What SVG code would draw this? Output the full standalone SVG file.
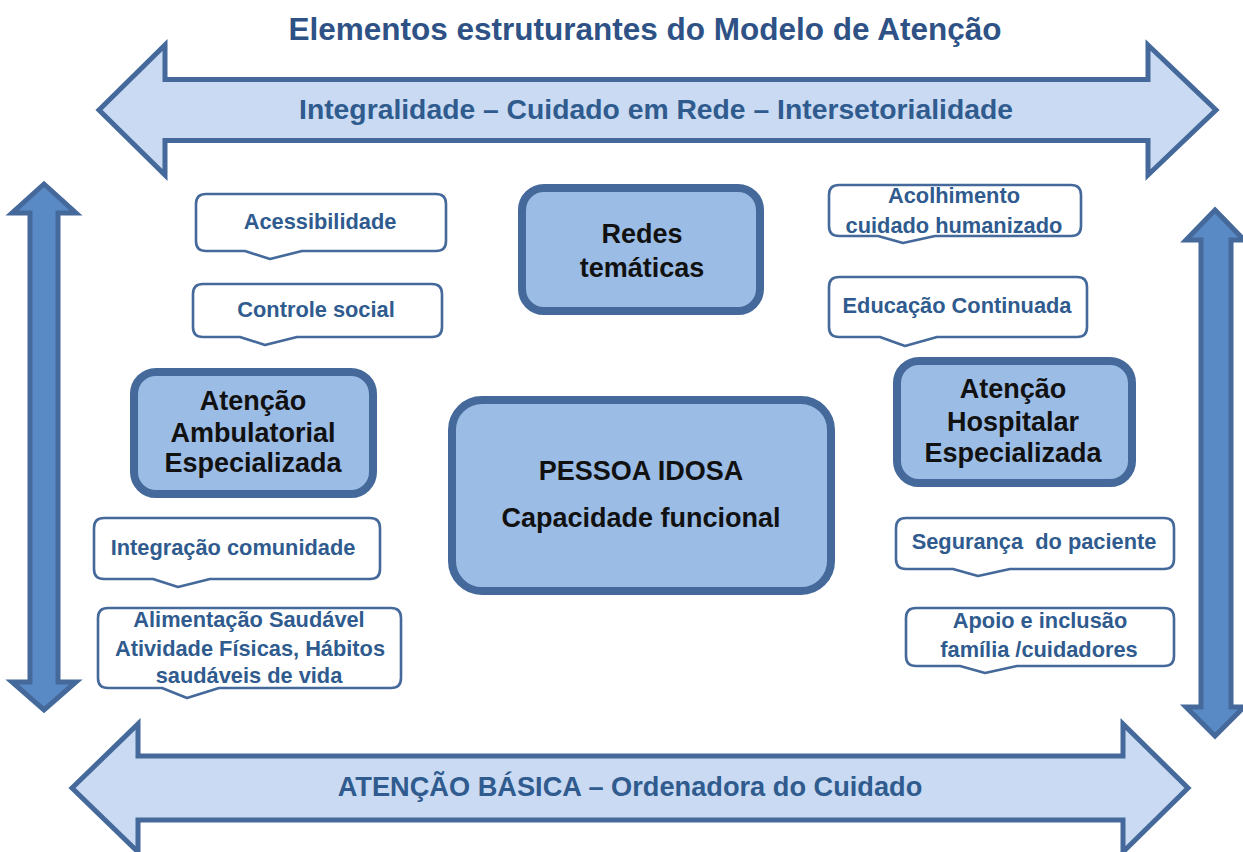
<svg xmlns="http://www.w3.org/2000/svg" width="1243" height="852" viewBox="0 0 1243 852">
<style>
.harrow{fill:#c9daf2;stroke:#44699a;stroke-width:5;stroke-linejoin:miter}
.varrow{fill:#5a8ac6;stroke:#44699a;stroke-width:5;stroke-linejoin:miter}
.box{fill:#9bbce5;stroke:#44699a;stroke-width:8}
.call{fill:#ffffff;stroke:#44699a;stroke-width:2.6;stroke-linejoin:round}
.t{font-family:"Liberation Sans",Arial,sans-serif;font-weight:bold;text-anchor:middle}
.title{font-size:31.5px;fill:#2e5286}
.lbl{font-size:28.3px;fill:#2f5b8e}
.lbl2{font-size:27.2px;fill:#2f5b8e}
.ct{font-size:21.8px;fill:#2f5b8e}
.bt{font-size:27px;fill:#111111}
</style>
<rect x="0" y="0" width="1243" height="852" fill="#ffffff"/>
<g id="title"><text class="t title" x="645" y="40">Elementos estruturantes do Modelo de Atenção</text></g>
<g id="connectors">
<path class="harrow" d="M99,110 L165,45 L165,79.5 L1148,79.5 L1148,45 L1216,110 L1148,175 L1148,140.5 L165,140.5 L165,175 Z"/>
<path class="harrow" d="M72,788 L138,724 L138,756 L1123,756 L1123,724 L1188,788 L1123,852 L1123,820 L138,820 L138,852 Z"/>
<path class="varrow" d="M44,184 L76,213 L58,213 L58,682 L76,682 L44,710 L12,682 L30,682 L30,213 L12,213 Z"/>
<path class="varrow" d="M1215,210 L1244,240 L1231,240 L1231,707 L1244,707 L1215,736 L1186,707 L1201,707 L1201,240 L1186,240 Z"/>
</g>
<g id="label-top"><text class="t lbl" x="656" y="119">Integralidade – Cuidado em Rede – Intersetorialidade</text></g>
<g id="label-bottom"><text class="t lbl2" x="630" y="796">ATENÇÃO BÁSICA – Ordenadora do Cuidado</text></g>

<g id="redes">
<rect class="box" x="522" y="188" width="238" height="123" rx="22"/>
<text class="t bt" x="642" y="243">Redes</text>
<text class="t bt" x="642" y="277">temáticas</text>
</g>
<g id="pessoa">
<rect class="box" x="452" y="400" width="379" height="191" rx="30"/>
<text class="t bt" x="641" y="480">PESSOA IDOSA</text>
<text class="t bt" x="641" y="527">Capacidade funcional</text>
</g>
<g id="ambulatorial">
<rect class="box" x="134" y="372" width="239" height="122" rx="22"/>
<text class="t bt" x="253" y="410">Atenção</text>
<text class="t bt" x="253" y="442">Ambulatorial</text>
<text class="t bt" x="253" y="472">Especializada</text>
</g>
<g id="hospitalar">
<rect class="box" x="897" y="361" width="235" height="122" rx="22"/>
<text class="t bt" x="1013" y="398">Atenção</text>
<text class="t bt" x="1013" y="431">Hospitalar</text>
<text class="t bt" x="1013" y="462">Especializada</text>
</g>

<g id="acessibilidade">
<path class="call" d="M206,194 H436 Q446,194 446,204 V241 Q446,251 436,251 H302 L270,259 L245,251 H206 Q196,251 196,241 V204 Q196,194 206,194 Z"/>
<text class="t ct" x="320" y="229">Acessibilidade</text>
</g>
<g id="controle">
<path class="call" d="M203,284 H432 Q442,284 442,294 V327 Q442,337 432,337 H297 L265,345 L240,337 H203 Q193,337 193,327 V294 Q193,284 203,284 Z"/>
<text class="t ct" x="316" y="317">Controle social</text>
</g>
<g id="acolhimento">
<path class="call" d="M839,185 H1071 Q1081,185 1081,195 V226 Q1081,236 1071,236 H935 L903,243 L878,236 H839 Q829,236 829,226 V195 Q829,185 839,185 Z"/>
<text class="t ct" x="954" y="203">Acolhimento</text>
<text class="t ct" x="954" y="233">cuidado humanizado</text>
</g>
<g id="educacao">
<path class="call" d="M839,277 H1077 Q1087,277 1087,287 V327 Q1087,337 1077,337 H937 L905,346 L880,337 H839 Q829,337 829,327 V287 Q829,277 839,277 Z"/>
<text class="t ct" x="957" y="313">Educação Continuada</text>
</g>
<g id="integracao">
<path class="call" d="M104,518 H370 Q380,518 380,528 V569 Q380,579 370,579 H210 L178,587 L153,579 H104 Q94,579 94,569 V528 Q94,518 104,518 Z"/>
<text class="t ct" x="233" y="555">Integração comunidade</text>
</g>
<g id="alimentacao">
<path class="call" d="M108,608 H391 Q401,608 401,618 V678 Q401,688 391,688 H219 L187,698 L162,688 H108 Q98,688 98,678 V618 Q98,608 108,608 Z"/>
<text class="t ct" x="249" y="627">Alimentação Saudável</text>
<text class="t ct" x="250" y="656">Atividade Físicas, Hábitos</text>
<text class="t ct" x="249" y="683">saudáveis de vida</text>
</g>
<g id="seguranca">
<path class="call" d="M906,518 H1164 Q1174,518 1174,528 V559 Q1174,569 1164,569 H1010 L978,576 L953,569 H906 Q896,569 896,559 V528 Q896,518 906,518 Z"/>
<text class="t ct" x="1034" y="549">Segurança&#160; do paciente</text>
</g>
<g id="apoio">
<path class="call" d="M916,608 H1164 Q1174,608 1174,618 V656 Q1174,666 1164,666 H1017 L985,673 L960,666 H916 Q906,666 906,656 V618 Q906,608 916,608 Z"/>
<text class="t ct" x="1040" y="628">Apoio e inclusão</text>
<text class="t ct" x="1039" y="657">família /cuidadores</text>
</g>
</svg>
